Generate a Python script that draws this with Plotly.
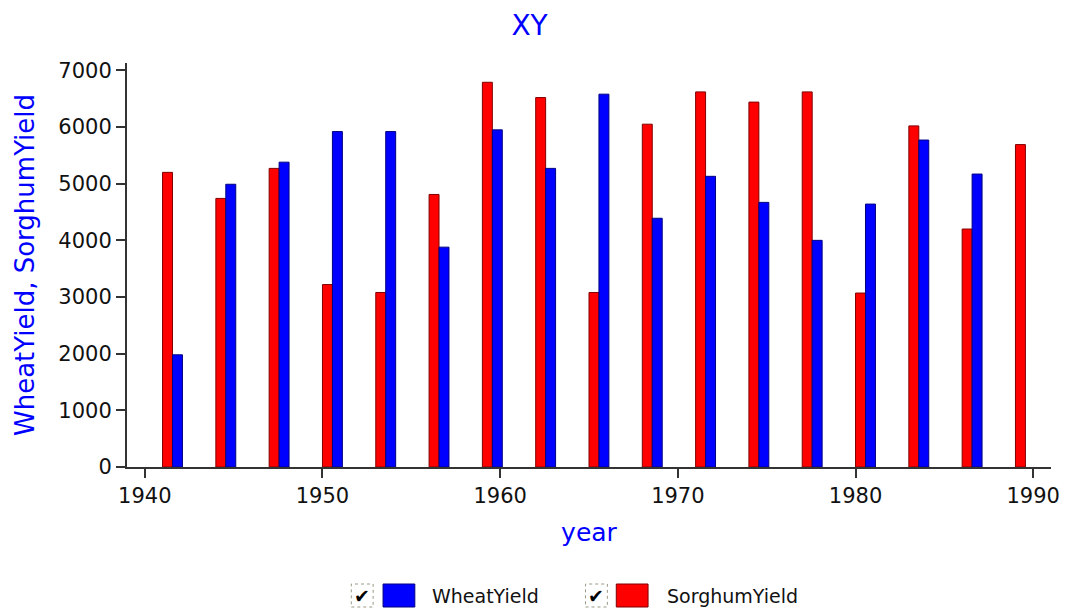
import plotly.graph_objects as go

# Yield data, one pair of bars every three years
years = [1941, 1944, 1947, 1950, 1953, 1956, 1959, 1962, 1965,
         1968, 1971, 1974, 1977, 1980, 1983, 1986, 1989]
wheat_yield = [1980, 4990, 5380, 5920, 5920, 3880, 5950, 5270, 6580,
               4390, 5130, 4670, 4000, 4640, 5770, 5170, None]
sorghum_yield = [5200, 4740, 5270, 3220, 3080, 4810, 6790, 6520, 3080,
                 6050, 6620, 6440, 6620, 3070, 6020, 4200, 5690]

x_ticks = [1940, 1950, 1960, 1970, 1980, 1990]
y_ticks = [0, 1000, 2000, 3000, 4000, 5000, 6000, 7000]

W, H = 1072, 610
M_L, M_R, M_T, M_B = 127, 14, 63, 143
FONT = "DejaVu Sans"
BAR_W = 0.56

fig = go.Figure()
fig.add_bar(x=years, y=sorghum_yield, name="SorghumYield",
            width=BAR_W, offset=0,
            marker=dict(color="#ff0000", line=dict(color="#800000", width=1)))
fig.add_bar(x=years, y=wheat_yield, name="WheatYield",
            width=BAR_W, offset=BAR_W,
            marker=dict(color="#0000ff", line=dict(color="#000080", width=1)))


def px_x(px):
    return (px - M_L) / (W - M_L - M_R)


def px_y(py):
    return (H - M_B - py) / (H - M_T - M_B)


# Legend with checkboxes, drawn below the plot
shapes = []
annotations = []
legend_items = [
    ("WheatYield", "#0000ff", "#000080", 353, 385, 432),
    ("SorghumYield", "#ff0000", "#800000", 589, 620, 669),
]
for label, fill, edge, box_x, sw_x, text_x in legend_items:
    shapes.append(dict(type="rect", xref="paper", yref="paper",
                       x0=px_x(box_x), x1=px_x(box_x + 22),
                       y0=px_y(607), y1=px_y(584),
                       line=dict(color="#9a9a88", width=1, dash="dot"),
                       fillcolor="white"))
    annotations.append(dict(xref="paper", yref="paper",
                            x=px_x(box_x + 11), y=px_y(596),
                            text="✔", showarrow=False,
                            font=dict(family=FONT, size=19, color="black"),
                            xanchor="center", yanchor="middle"))
    shapes.append(dict(type="rect", xref="paper", yref="paper",
                       x0=px_x(sw_x), x1=px_x(sw_x + 32),
                       y0=px_y(607), y1=px_y(584),
                       line=dict(color=edge, width=1), fillcolor=fill))
    annotations.append(dict(xref="paper", yref="paper",
                            x=px_x(text_x), y=px_y(596),
                            text=label, showarrow=False,
                            font=dict(family=FONT, size=19, color="#111111"),
                            xanchor="left", yanchor="middle"))

fig.update_layout(
    width=W, height=H,
    margin=dict(l=M_L, r=M_R, t=M_T, b=M_B, pad=0),
    paper_bgcolor="white", plot_bgcolor="white",
    barmode="overlay",
    showlegend=False,
    title=dict(text="XY", x=0.494, xref="container", xanchor="center",
               y=0.975, yref="container", yanchor="top",
               font=dict(family=FONT, size=28, color="#0000ff")),
    font=dict(family=FONT, color="#111111"),
    shapes=shapes,
    annotations=annotations,
)
fig.update_xaxes(
    range=[1939, 1991], tickvals=x_ticks, ticktext=[str(v) for v in x_ticks],
    showgrid=False, zeroline=False,
    showline=True, linecolor="#333333", linewidth=2,
    ticks="outside", ticklen=9, tickwidth=2, tickcolor="#333333",
    tickfont=dict(family=FONT, size=21, color="#111111"),
    title=dict(text="year", standoff=16,
               font=dict(family=FONT, size=25, color="#0000ff")),
)
fig.update_yaxes(
    range=[0, 7130], tickvals=y_ticks, ticktext=[str(v) for v in y_ticks],
    showgrid=False, zeroline=False,
    showline=True, linecolor="#333333", linewidth=2,
    ticks="outside", ticklen=9, tickwidth=2, tickcolor="#333333",
    tickfont=dict(family=FONT, size=21, color="#111111"),
    title=dict(text="WheatYield, SorghumYield", standoff=16,
               font=dict(family=FONT, size=26, color="#0000ff")),
)

fig.write_html("out.html")
